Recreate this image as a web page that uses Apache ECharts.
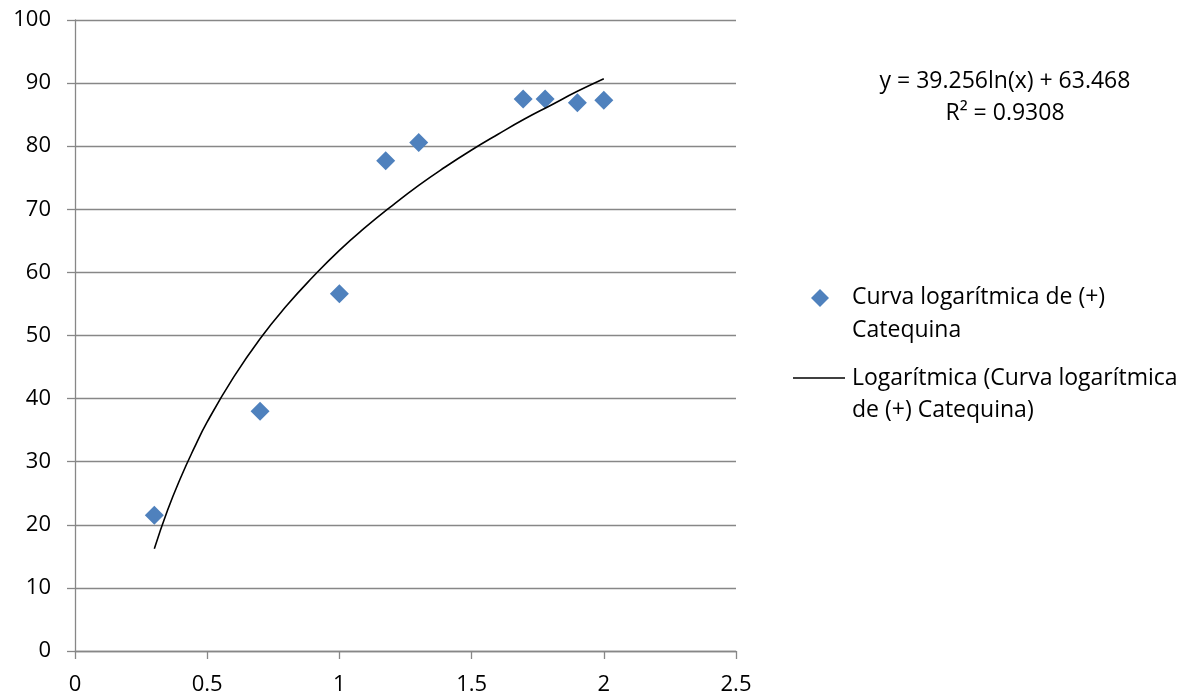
<!DOCTYPE html>
<html>
<head>
<meta charset="utf-8">
<script src="https://cdn.jsdelivr.net/npm/echarts@6/dist/echarts.min.js"></script>
<style>
html,body{margin:0;padding:0;background:#fff;}
#chart{width:1193px;height:699px;}
</style>
</head>
<body>
<div id="chart"></div>
<script>
// Measured points
const xValues = [0.3, 0.7, 1.0, 1.175, 1.3, 1.695, 1.778, 1.9, 2.0];
const yValues = [21.5, 38.0, 56.6, 77.7, 80.6, 87.5, 87.5, 86.9, 87.3];
// Trendline values
const trendX = [0.3, 0.35, 0.4, 0.45, 0.5, 0.6, 0.7, 0.8, 0.9, 1.0, 1.1, 1.2, 1.3, 1.4, 1.5, 1.6, 1.7, 1.8, 1.9, 2.0];
const trendY = [16.2, 22.3, 27.5, 32.1, 36.3, 43.4, 49.5, 54.7, 59.3, 63.5, 67.2, 70.6, 73.8, 76.7, 79.4, 81.9, 84.3, 86.5, 88.7, 90.7];
const seriesName = 'Curva logarítmica de (+) Catequina';
const trendName = 'Logarítmica (Curva logarítmica de (+) Catequina)';
const equationText = 'y = 39.256ln(x) + 63.468';
const r2Text = 'R² = 0.9308';

const FONT = '"Open Sans", Lato, sans-serif';
const FS = 22;
const LFS = 23;
const chart = echarts.init(document.getElementById('chart'));
const scatterData = xValues.map((x, i) => [x, yValues[i]]);
const trendData = trendX.map((x, i) => [x, trendY[i]]);
const grey = '#878787';
const txt = (t, x, y, align) => ({type: 'text', x: x, y: y, style: {text: t, x: 0, y: 0, textAlign: align || 'left', textVerticalAlign: 'middle', font: LFS + 'px ' + FONT, fill: '#000'}});
chart.setOption({
  animation: false,
  backgroundColor: '#fff',
  grid: {left: 75, right: 457, top: 20, bottom: 48, containLabel: false},
  xAxis: {
    type: 'value', min: 0, max: 2.5, interval: 0.5,
    axisLine: {show: true, lineStyle: {color: grey, width: 1.3}},
    axisTick: {show: true, length: 8, lineStyle: {color: grey, width: 1.3}},
    splitLine: {show: false},
    axisLabel: {color: '#000', fontFamily: FONT, fontSize: FS, margin: 23}
  },
  yAxis: {
    type: 'value', min: 0, max: 100, interval: 10,
    axisLine: {show: true, onZero: false, lineStyle: {color: grey, width: 1.3}},
    axisTick: {show: true, length: 8, lineStyle: {color: grey, width: 1.3}},
    splitLine: {show: true, lineStyle: {color: grey, width: 1.3}},
    axisLabel: {color: '#000', fontFamily: FONT, fontSize: FS, margin: 24}
  },
  series: [
    {
      name: trendName, type: 'line', data: trendData, smooth: true,
      showSymbol: false, symbol: 'none',
      lineStyle: {color: '#000', width: 1.6}, z: 3
    },
    {
      name: seriesName, type: 'scatter', data: scatterData,
      symbol: 'diamond', symbolSize: 19,
      itemStyle: {color: '#4F81BD', opacity: 1}, z: 2
    }
  ],
  graphic: [
    txt(equationText, 1005, 81, 'center'),
    txt(r2Text, 1005, 113, 'center'),
    {type: 'polygon', shape: {points: [[820, 289], [829, 298], [820, 307], [811, 298]]}, style: {fill: '#4F81BD'}},
    txt('Curva logarítmica de (+)', 852, 297),
    txt('Catequina', 852, 330),
    {type: 'line', shape: {x1: 793, y1: 378, x2: 845, y2: 378}, style: {stroke: '#000', lineWidth: 1.6}},
    txt('Logarítmica (Curva logarítmica', 852, 378),
    txt('de (+) Catequina)', 852, 410)
  ]
});
</script>
</body>
</html>
